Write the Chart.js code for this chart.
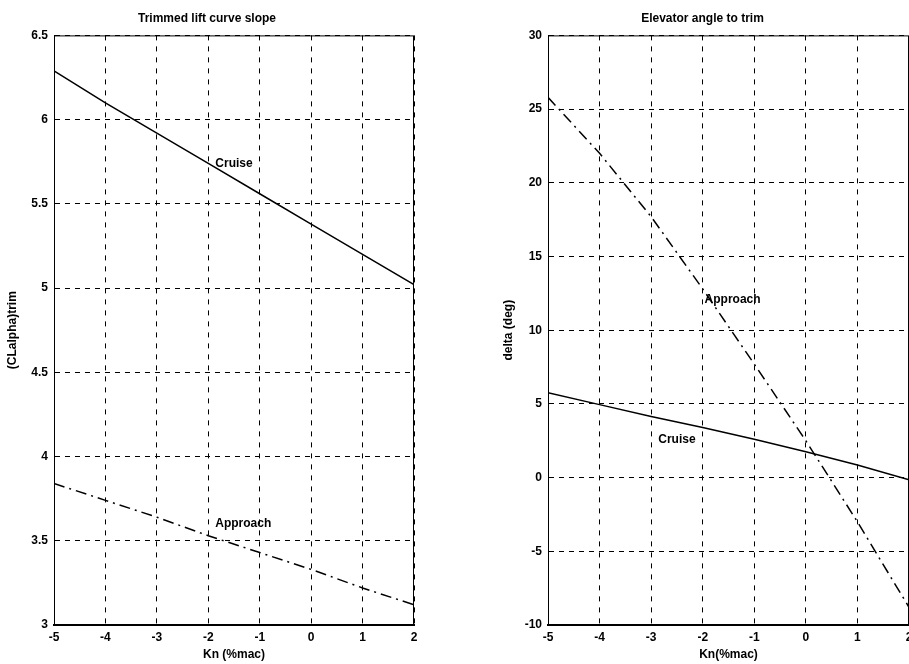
<!DOCTYPE html>
<html>
<head>
<meta charset="utf-8">
<script src="https://cdn.jsdelivr.net/npm/chart.js@4"></script>
<style>
  html, body { margin: 0; padding: 0; background: #fff; overflow: hidden; width: 909px; height: 664px; }
  .wrap { position: absolute; top: 0; }
</style>
</head>
<body>
<div class="wrap" style="left:0px"><canvas id="leftChart" width="455" height="664"></canvas></div>
<div class="wrap" style="left:460px"><canvas id="rightChart" width="500" height="664"></canvas></div>
<script>
// -- Data --
const knValues = [-5, -4, -3, -2, -1, 0, 1, 2]

const liftCruise = [6.29, 6.10, 5.92, 5.74, 5.56, 5.38, 5.20, 5.02]
const liftApproach = [3.84, 3.74, 3.64, 3.53, 3.43, 3.33, 3.22, 3.12]

const elevCruise = [5.75, 4.95, 4.15, 3.40, 2.60, 1.75, 0.85, -0.15]
const elevApproach = [25.8, 22.0, 17.7, 12.8, 7.7, 2.5, -3.0, -8.8]

const xTicks = [-5, -4, -3, -2, -1, 0, 1, 2]
const liftTicks = [3, 3.5, 4, 4.5, 5, 5.5, 6, 6.5]
const elevTicks = [-10, -5, 0, 5, 10, 15, 20, 25, 30]

// text labels placed on the curves (data coords)
const liftNotes = [
  { text: "Cruise", x: -1.5, y: 5.74 },
  { text: "Approach", x: -1.32, y: 3.6 }
]
const elevNotes = [
  { text: "Approach", x: -1.42, y: 12.1 },
  { text: "Cruise", x: -2.5, y: 2.55 }
]

Chart.defaults.font.family = '"Liberation Sans", Arial, sans-serif'
Chart.defaults.color = '#000'

let toPoints = function(xs, ys) {
  return xs.map((x, i) => ({ x: x, y: ys[i] }))
}

// frame around the plot area + curve labels
let makeDecor = function(notes) {
  return {
    id: 'decor',
    afterDatasetsDraw(chart) {
      const { ctx, chartArea: a, scales } = chart
      ctx.save()
      ctx.strokeStyle = '#000'
      ctx.lineWidth = 1
      ctx.setLineDash([])
      ctx.strokeRect(a.left + 0.5, a.top + 0.5, a.right - a.left - 1, a.bottom - a.top - 1)
      ctx.fillStyle = '#000'
      ctx.font = 'bold 12px "Liberation Sans", Arial, sans-serif'
      ctx.textAlign = 'center'
      ctx.textBaseline = 'middle'
      for (let n of notes) {
        ctx.fillText(n.text, scales.x.getPixelForValue(n.x), scales.y.getPixelForValue(n.y))
      }
      ctx.restore()
    }
  }
}

let get_options = function(title, xTitle, yTitle, yMin, yMax, yTickList, yWidth, pad) {
  return {
    responsive: false,
    animation: false,
    layout: { padding: pad },
    plugins: {
      legend: { display: false },
      tooltip: { enabled: false },
      title: {
        display: true,
        text: title,
        color: '#000',
        font: { size: 12, weight: 'bold' },
        padding: { top: 11, bottom: 10 }
      }
    },
    scales: {
      x: {
        type: 'linear',
        min: xTicks[0],
        max: xTicks[xTicks.length - 1],
        afterFit: function(scale) { scale.height = 39 },
        afterBuildTicks: function(scale) { scale.ticks = xTicks.map(v => ({ value: v })) },
        ticks: {
          padding: 5,
          maxRotation: 0,
          color: '#000',
          font: { size: 12, weight: 'bold' },
          callback: v => String(v)
        },
        grid: { color: '#000', lineWidth: 1, drawTicks: false },
        border: { display: true, color: '#000', width: 2, dash: [5, 6] },
        title: {
          display: true,
          text: xTitle,
          color: '#000',
          font: { size: 12, weight: 'bold' },
          padding: { top: 0, bottom: 2 }
        }
      },
      y: {
        type: 'linear',
        min: yMin,
        max: yMax,
        afterFit: function(scale) { scale.width = yWidth },
        afterBuildTicks: function(scale) { scale.ticks = yTickList.map(v => ({ value: v })) },
        ticks: {
          padding: 6,
          color: '#000',
          font: { size: 12, weight: 'bold' },
          callback: v => String(v)
        },
        grid: { color: '#000', lineWidth: 1, drawTicks: false },
        border: { display: true, color: '#000', width: 1, dash: [5, 5] },
        title: {
          display: true,
          text: yTitle,
          color: '#000',
          font: { size: 12, weight: 'bold' },
          padding: { top: 5, bottom: 0 }
        }
      }
    }
  }
}

let lineSet = function(label, xs, ys, dash) {
  return {
    label: label,
    data: toPoints(xs, ys),
    borderColor: '#000',
    borderWidth: 1.5,
    borderDash: dash,
    pointRadius: 0,
    fill: false,
    tension: 0
  }
}

new Chart(document.getElementById('leftChart'), {
  type: 'line',
  data: {
    datasets: [
      lineSet('Cruise', knValues, liftCruise, []),
      lineSet('Approach', knValues, liftApproach, [11, 5, 2, 5])
    ]
  },
  options: get_options('Trimmed lift curve slope', 'Kn (%mac)', '(CLalpha)trim',
    3, 6.5, liftTicks, 54, { left: 0, right: 41, top: 0, bottom: 0 }),
  plugins: [makeDecor(liftNotes)]
})

new Chart(document.getElementById('rightChart'), {
  type: 'line',
  data: {
    datasets: [
      lineSet('Cruise', knValues, elevCruise, []),
      lineSet('Approach', knValues, elevApproach, [11, 5, 2, 5])
    ]
  },
  options: get_options('Elevator angle to trim', 'Kn(%mac)', 'delta (deg)',
    -10, 30, elevTicks, 52, { left: 36, right: 51, top: 0, bottom: 0 }),
  plugins: [makeDecor(elevNotes)]
})
</script>
</body>
</html>
